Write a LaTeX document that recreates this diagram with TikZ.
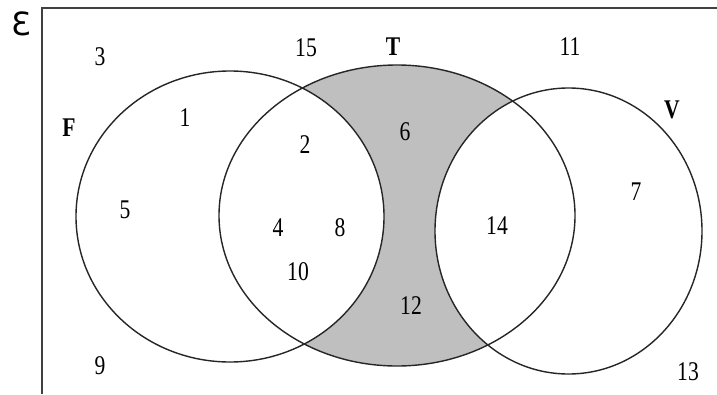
\documentclass[tikz,border=0pt]{standalone}
\usepackage{fontspec}
\setmainfont{Liberation Serif}
\newfontfamily\numfont[FakeStretch=0.8]{Liberation Serif}
\newfontfamily\dejavu{DejaVu Sans}
\begin{document}
\begin{tikzpicture}[x=1pt,y=-1pt,
  lbl/.style={font=\numfont\fontsize{27}{27}\selectfont, inner sep=0pt},
  setlbl/.style={font=\numfont\fontsize{27}{27}\selectfont\bfseries, inner sep=0pt},
  setline/.style={draw=black!85, line width=1.4pt}]
\useasboundingbox (0,0) rectangle (717,394);
\fill[white] (0,0) rectangle (717,394);
% shaded T only
\fill[black!25] (397,215.5) ellipse [x radius=178, y radius=150.5];
\fill[white] (230,216.5) ellipse [x radius=154, y radius=145.5];
\fill[white] (568.5,231) ellipse [x radius=133.5, y radius=143];
\draw[setline] (230,216.5) ellipse [x radius=154, y radius=145.5];
\draw[setline] (397,215.5) ellipse [x radius=178, y radius=150.5];
\draw[setline] (568.5,231) ellipse [x radius=133.5, y radius=143];
% frame
\draw[draw=black!75, line width=2.2pt] (42,394) -- (42,8) -- (717,8);
\node[font=\dejavu\fontsize{32}{32}\selectfont, inner sep=0pt] (eps) at (21,24) {Ɛ};
% labels
\node[lbl] (n3) at (100,57) {3};
\node[lbl] (n15) at (306,48) {15};
\node[setlbl] (T) at (393,47) {T};
\node[lbl] (n11) at (570,47) {11};
\node[lbl] (n1) at (185,118) {1};
\node[setlbl] (F) at (69,128) {F};
\node[lbl] (n2) at (305,145) {2};
\node[lbl] (n6) at (405,132) {6};
\node[setlbl] (V) at (672,110) {V};
\node[lbl] (n5) at (125,210) {5};
\node[lbl] (n4) at (278,228) {4};
\node[lbl] (n8) at (340,228) {8};
\node[lbl] (n14) at (497,226) {14};
\node[lbl] (n7) at (636,192) {7};
\node[lbl] (n10) at (298,272) {10};
\node[lbl] (n12) at (411,306) {12};
\node[lbl] (n9) at (100,366) {9};
\node[lbl] (n13) at (688,372) {13};
\end{tikzpicture}
\end{document}
